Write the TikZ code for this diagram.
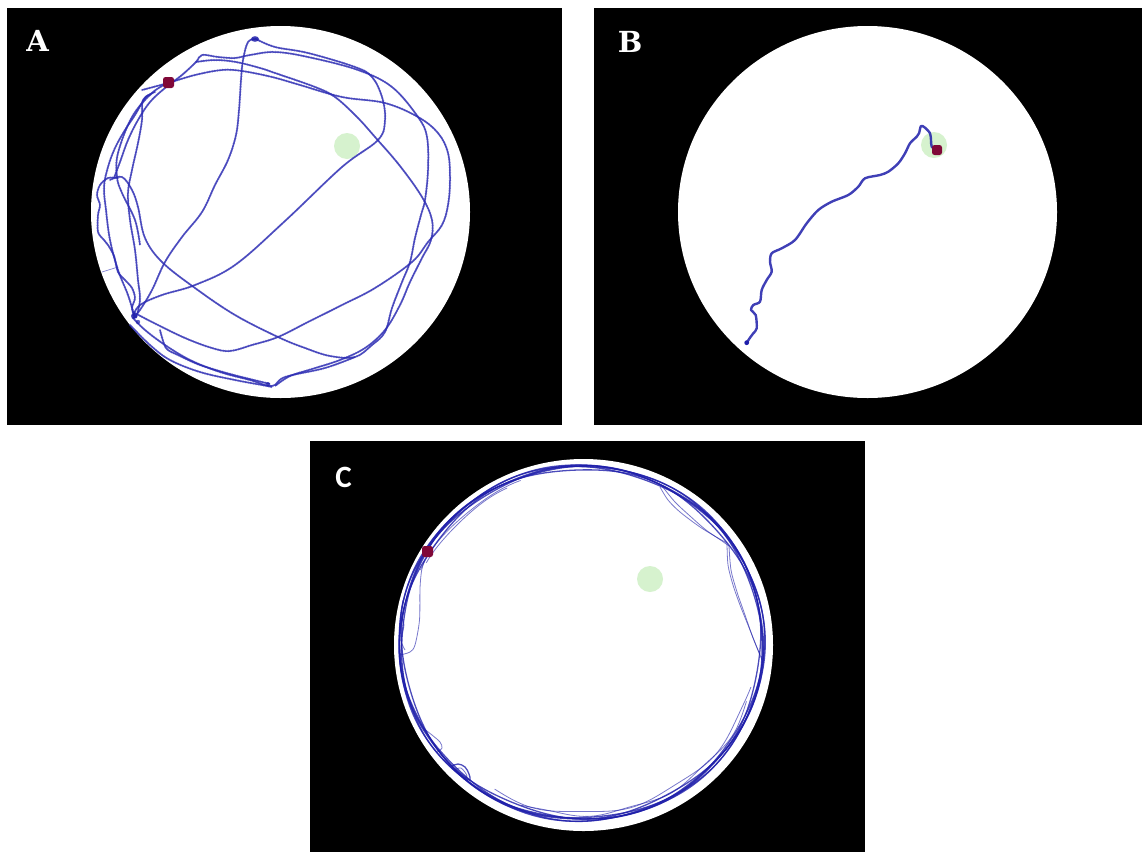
\documentclass[tikz,border=0pt]{standalone}
\usepackage{fontspec}
\newfontfamily\labserif{DejaVu Serif}
\newfontfamily\labsans{Carlito}
\definecolor{trajblue}{RGB}{45,45,180}
\definecolor{trajdark}{RGB}{30,30,170}
\definecolor{goalgreen}{RGB}{214,242,206}
\definecolor{markred}{RGB}{128,8,56}
\begin{document}
\begin{tikzpicture}[x=1pt,y=-1pt,
  panel/.style={fill=black},
  arena/.style={fill=white},
  goal/.style={fill=goalgreen},
  markbox/.style={fill=markred, rounded corners=2.5pt},
  lab/.style={text=white, inner sep=0pt},
  trajA/.style={draw=trajblue, line width=1.5pt, draw opacity=0.8, line join=round,
     postaction={draw=trajblue, line width=2.8pt, dash pattern=on 0pt off 2.6pt, line cap=round, draw opacity=0.35}},
  thinA/.style={draw=trajblue, line width=0.7pt, draw opacity=0.6},
  trajB/.style={draw=trajdark, line width=2.4pt, draw opacity=0.85, line join=round, line cap=round},
  trajC/.style={draw=trajdark, line width=1.3pt, draw opacity=0.8, line join=round},
  thinC/.style={draw=trajdark, line width=0.8pt, draw opacity=0.6, line join=round}]
\fill[white] (0,0) rectangle (1142,852);
\useasboundingbox (0,0) rectangle (1142,852);

% ---------------- Panel A ----------------
\fill[panel] (7,8) rectangle (562,425);
\fill[arena] (280.5,212) ellipse [x radius=189.5pt, y radius=186pt];
\fill[goal] (347,146) circle [radius=13pt];

\draw[trajA] plot[smooth, tension=0.6] coordinates {(133,316) (140,305) (162,295) (195,285) (235,265) (285,221) (342,167) (378,140) (385,120) (382,97) (372,77) (355,67) (308,53) (275,47) (256,39)};
\draw[trajA] plot[smooth, tension=0.6] coordinates {(256,39) (248,42) (243,60) (241,80) (239,110) (236,135) (228,160) (215,185) (202,212) (182,237) (165,262) (152,290) (140,310) (133,318)};
\draw[trajA] plot[smooth, tension=0.6] coordinates {(142,90) (168,83) (195,75) (222,70) (242,71) (272,77) (300,85) (342,97) (385,103) (418,117) (438,133) (448,153) (450,180) (448,205) (442,225) (428,242) (412,262) (375,288) (342,305) (308,322) (278,337) (252,345) (230,351) (212,348) (185,338) (152,322) (133,312)};
\draw[trajA] plot[smooth, tension=0.6] coordinates {(110,180) (122,177) (132,190) (138,207) (145,238) (162,262) (195,288) (235,315) (278,337) (305,348) (330,356) (355,357) (372,345) (385,332) (392,308) (402,282) (410,262) (415,238) (421,215) (425,200) (428,170) (427,137) (418,117) (392,87) (358,70) (308,57) (275,52) (250,55) (235,58) (218,57) (202,55) (196,62) (182,75) (165,88) (150,102) (138,120) (128,140) (120,162) (114,178)};
\draw[trajA] plot[smooth, tension=0.6] coordinates {(196,62) (215,60) (236,62) (260,68) (275,73) (315,87) (335,97) (357,117) (375,137) (400,166) (422,197) (432,220) (431,240) (422,258) (410,282) (400,305) (385,330) (365,348) (340,360) (312,369) (290,376) (275,386)};
\draw[trajA] plot[smooth, tension=0.6] coordinates {(133,318) (145,330) (165,345) (190,360) (220,372) (250,380) (272,386) (285,377) (325,368) (355,357)};
\draw[trajA] plot[smooth, tension=0.6] coordinates {(130,325) (150,345) (170,360) (200,372) (235,380) (262,385) (272,387)};
\draw[trajA] plot[smooth, tension=0.5] coordinates {(160,330) (166,348) (178,355) (200,365) (230,374) (262,382) (270,384)};
\draw[trajA] plot[smooth, tension=0.5] coordinates {(118,178) (108,178) (100,185) (97,195) (100,205) (98,215) (98,232) (104,240) (108,245) (114,256) (118,272) (125,280) (132,288) (135,298) (132,308) (135,318)};
\draw[trajA] plot[smooth, tension=0.6] coordinates {(150,95) (145,98) (135,115) (125,130) (115,148) (108,167) (104,187) (106,210) (110,240) (118,270) (128,295) (134,315)};
\draw[trajA] plot[smooth, tension=0.6] coordinates {(155,92) (143,100) (142,120) (138,143) (132,170) (128,193) (130,220) (135,250) (138,280) (140,300) (136,318)};
\draw[trajA] plot[smooth, tension=0.6] coordinates {(168,83) (152,93) (132,117) (118,153) (117,177) (122,193) (135,220) (140,245)};
\draw[thinA] (102,272) -- (118,267);
\fill[trajdark, opacity=0.85] (255,39) ellipse [x radius=4pt, y radius=2.8pt];
\fill[trajdark, opacity=0.8] (134,316) circle [radius=3pt];
\fill[trajdark, opacity=0.7] (138,322) circle [radius=2.2pt];
\fill[trajdark, opacity=0.7] (268,384) circle [radius=2pt];
\fill[markbox] (163,77) rectangle (174,88);
\node[lab, font=\labserif\bfseries\fontsize{29}{29}\selectfont] (labA) at (37.5,41) {A};

% ---------------- Panel B ----------------
\fill[panel] (594,8) rectangle (1142,425);
\fill[arena] (867.5,212) ellipse [x radius=189.5pt, y radius=186pt];
\fill[goal] (934,145) circle [radius=13pt];
\draw[trajB] plot[smooth, tension=0.5] coordinates {(746.7,342.7) (750,337.7) (753.3,333.3) (756.7,328.3) (755.7,315) (751,310) (753.3,305) (760,301.7) (761.7,290) (766.7,280) (771.7,271.7) (770,261.7) (771.7,253.3) (781.7,248.3) (795,240) (806.7,223.3) (818.3,210) (831.7,201.7) (848.3,195) (858.3,186.7) (865,178.3) (880,175) (888.3,171.7) (898.3,163.3) (905,153.3) (910,143.3) (916.7,136.7) (919,133.3) (921,126) (925,127.7) (930,133.3) (931,140) (931.7,146.7) (936.7,150)};
\fill[trajdark] (746.7,342.7) circle [radius=2.4pt];
\fill[markbox] (932,145) rectangle (942,155);
\node[lab, font=\labserif\bfseries\fontsize{29}{29}\selectfont] (labB) at (630,42) {B};

% ---------------- Panel C ----------------
\fill[panel] (310,441) rectangle (865,852);
\fill[arena] (583.5,645) ellipse [x radius=189.5pt, y radius=186pt];
\fill[goal] (650,579) circle [radius=13pt];
\foreach \dr/\ph/\amp in {0/0/1.0, -1.5/40/1.2, 1/100/0.8, -2.5/200/1.5, -0.5/300/1.2, 0.5/150/1.0} {
  \draw[trajC] plot[smooth cycle, domain=0:357, samples=120]
    ({581.5+(182+\dr+\amp*sin(7*\x+\ph))*cos(\x)},{643+(177+\dr+\amp*sin(7*\x+\ph))*sin(\x)});
}
\draw[thinC] plot[smooth, domain=15:120, samples=40]
    ({581.5+(175+1.5*sin(11*\x))*cos(\x)},{643+(170+1.5*sin(11*\x))*sin(\x)});
\draw[thinC] plot[smooth, domain=20:110, samples=40]
    ({581.5+(177+1.5*sin(13*\x+30))*cos(\x)},{643+(172+1.5*sin(13*\x+30))*sin(\x)});
\draw[thinC] plot[smooth, domain=205:250, samples=20]
    ({581.5+(177+1*sin(9*\x))*cos(\x)},{643+(172+1*sin(9*\x))*sin(\x)});
\draw[thinC] plot[smooth, domain=208:245, samples=20]
    ({581.5+(175+1*sin(9*\x+50))*cos(\x)},{643+(170+1*sin(9*\x+50))*sin(\x)});
\draw[thinC] plot[smooth, tension=0.5] coordinates {(425,560) (421.7,570) (420,588) (419.5,620) (415,645) (410,652) (400,655)};
\draw[thinC] plot[smooth, tension=0.5] coordinates {(403,600) (401,615) (404,625) (401,640) (405,650)};
\draw[thinC] plot[smooth, tension=0.5] coordinates {(660,487) (668,500) (680,512) (700,527) (718,538) (727,543)};
\draw[thinC] plot[smooth, tension=0.5] coordinates {(662,486) (675,502) (690,516) (706,530) (722,541) (729,546)};
\draw[thinC] plot[smooth, tension=0.5] coordinates {(727,543) (728,565) (733,585) (740,605) (748,625) (756,645) (762,660)};
\draw[thinC] plot[smooth, tension=0.5] coordinates {(729,546) (731,570) (737,592) (745,615) (753,638) (760,655)};
\draw[thinC] plot[smooth, tension=0.5] coordinates {(423,728) (432,735) (440,742) (442,748) (437,752)};
\draw[trajC] plot[smooth cycle, tension=0.6] coordinates {(452,767) (458,764) (465,767) (469,774) (470,780) (465,778) (459,773)};
\draw[thinC] plot[smooth, tension=0.6] coordinates {(455,770) (461,768) (467,776) (463,779)};
\fill[markbox] (422,546) rectangle (433,557);
\node[lab, font=\labsans\bfseries\fontsize{31}{31}\selectfont] (labC) at (343.5,477) {C};
\end{tikzpicture}
\end{document}
